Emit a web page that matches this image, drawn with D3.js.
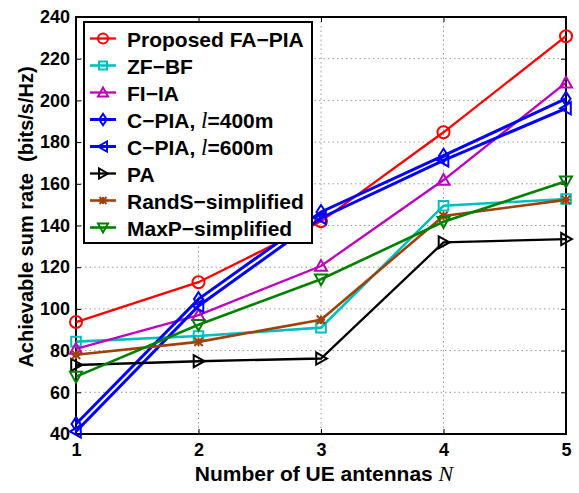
<!DOCTYPE html>
<html lang="en">
<head>
<meta charset="utf-8">
<title>Achievable sum rate vs UE antennas</title>
<script src="https://cdn.jsdelivr.net/npm/d3@7"></script>
<style>
body { margin: 0; background: #fff; }
.axis text { font-family: "Liberation Sans", Arial, sans-serif; font-size: 18px; font-weight: bold; fill: #000; }
.axis path, .axis line { stroke: #000; }
</style>
</head>
<body>
<script>
// data
var antennas = [1, 2, 3, 4, 5];
var yTicks = [40, 60, 80, 100, 120, 140, 160, 180, 200, 220, 240];
var proposed = [93.7, 112.8, 142, 184.7, 230.8];
var zfbf = [84.3, 87, 91, 149.5, 152.7];
var fiia = [80.8, 97, 120.6, 161.8, 208.5];
var cpia400 = [44.8, 104.7, 146.5, 173.5, 200.8];
var cpia600 = [41.2, 101.4, 143.6, 171.2, 196.2];
var pa = [73.1, 74.9, 76.2, 131.9, 133.5];
var rands = [78, 84.2, 94.8, 144.6, 152.3];
var maxp = [67.5, 92.4, 114.2, 141.8, 161.2];

var series = [
    { name: "Proposed FA\u2212PIA", values: proposed, color: "#ff0000", marker: "circle", width: 2.3 },
    { name: "ZF\u2212BF", values: zfbf, color: "#00bfbf", marker: "square", width: 2.6 },
    { name: "FI\u2212IA", values: fiia, color: "#bf00bf", marker: "up", width: 2.3 },
    { name: "C\u2212PIA, |=400m", values: cpia400, color: "#0000ff", marker: "diamond", width: 3 },
    { name: "C\u2212PIA, |=600m", values: cpia600, color: "#0000ff", marker: "left", width: 3 },
    { name: "PA", values: pa, color: "#000000", marker: "right", width: 2.3 },
    { name: "RandS\u2212simplified", values: rands, color: "#a0400a", marker: "star", width: 2.6 },
    { name: "MaxP\u2212simplified", values: maxp, color: "#008000", marker: "down", width: 2.6 }
];

var margin = { top: 17, right: 13, bottom: 59, left: 76 };
var outer_width = 579, outer_height = 493;
var w = outer_width - margin.left - margin.right;
var h = outer_height - margin.top - margin.bottom;

var svg = d3.select("body").append("svg")
    .attr("width", outer_width)
    .attr("height", outer_height);
var g = svg.append("g").attr("transform", "translate(" + margin.left + "," + margin.top + ")");

var xScale = d3.scaleLinear().domain([1, 5]).range([0, w]);
var yScale = d3.scaleLinear().domain([40, 240]).range([h, 0]);

// dotted grid
g.append("g").selectAll("line.gx")
    .data(antennas.slice(1, -1))
    .enter().append("line")
    .attr("x1", function(d) { return xScale(d); })
    .attr("x2", function(d) { return xScale(d); })
    .attr("y1", 0).attr("y2", h)
    .attr("stroke", "#999").attr("stroke-width", 1).attr("stroke-dasharray", "1.5,3");
g.append("g").selectAll("line.gy")
    .data(yTicks.slice(1, -1))
    .enter().append("line")
    .attr("y1", function(d) { return yScale(d); })
    .attr("y2", function(d) { return yScale(d); })
    .attr("x1", 0).attr("x2", w)
    .attr("stroke", "#999").attr("stroke-width", 1).attr("stroke-dasharray", "1.5,3");

// axes (ticks inside, MATLAB style)
g.append("g").attr("class", "axis")
    .attr("transform", "translate(0," + h + ")")
    .call(d3.axisBottom(xScale).tickValues(antennas).tickFormat(d3.format("d")).tickSizeInner(-5).tickSizeOuter(0).tickPadding(9))
    .call(function(s) { s.select(".domain").remove(); });
g.append("g").attr("class", "axis")
    .call(d3.axisLeft(yScale).tickValues(yTicks).tickSizeInner(-5).tickSizeOuter(0).tickPadding(6))
    .call(function(s) { s.select(".domain").remove(); });
g.append("g").attr("class", "axis")
    .attr("transform", "translate(" + w + ",0)")
    .call(d3.axisRight(yScale).tickValues(yTicks).tickSizeInner(-5).tickSizeOuter(0).tickFormat(""))
    .call(function(s) { s.select(".domain").remove(); });
g.append("g").attr("class", "axis")
    .call(d3.axisTop(xScale).tickValues(antennas).tickSizeInner(-5).tickSizeOuter(0).tickFormat(""))
    .call(function(s) { s.select(".domain").remove(); });

g.append("rect")
    .attr("width", w).attr("height", h)
    .attr("fill", "none").attr("stroke", "#000").attr("stroke-width", 2);

// marker shapes
function markerPath(type, r) {
    switch (type) {
        case "circle":
            return "M" + (-r) + ",0A" + r + "," + r + " 0 1,0 " + r + ",0A" + r + "," + r + " 0 1,0 " + (-r) + ",0Z";
        case "square":
            var s = r * 0.8;
            return "M" + (-s) + "," + (-s) + "H" + s + "V" + s + "H" + (-s) + "Z";
        case "diamond":
            return "M0," + (-r * 1.15) + "L" + (r * 0.75) + ",0L0," + (r * 1.15) + "L" + (-r * 0.75) + ",0Z";
        case "up":
            return "M0," + (-r) + "L" + r + "," + (r * 0.8) + "L" + (-r) + "," + (r * 0.8) + "Z";
        case "down":
            return "M0," + r + "L" + r + "," + (-r * 0.8) + "L" + (-r) + "," + (-r * 0.8) + "Z";
        case "left":
            return "M" + (-r) + ",0L" + (r * 0.8) + "," + (-r) + "L" + (r * 0.8) + "," + r + "Z";
        case "right":
            return "M" + r + ",0L" + (-r * 0.8) + "," + (-r) + "L" + (-r * 0.8) + "," + r + "Z";
        case "star":
            var a = r * 0.7;
            return "M" + (-a) + "," + (-a) + "L" + a + "," + a + "M" + (-a) + "," + a + "L" + a + "," + (-a) +
                "M0," + (-a) + "L0," + a + "M" + (-a) + ",0L" + a + ",0";
    }
}

var line = d3.line()
    .x(function(d, i) { return xScale(antennas[i]); })
    .y(function(d) { return yScale(d); });

series.forEach(function(s) {
    var sg = g.append("g");
    sg.append("path")
        .attr("d", line(s.values))
        .attr("fill", "none")
        .attr("stroke", s.color)
        .attr("stroke-width", s.width);
    sg.selectAll("path.m")
        .data(s.values)
        .enter().append("path")
        .attr("transform", function(d, i) { return "translate(" + xScale(antennas[i]) + "," + yScale(d) + ")"; })
        .attr("d", markerPath(s.marker, 6))
        .attr("fill", "none")
        .attr("stroke", s.color)
        .attr("stroke-width", 2);
});

// legend
var legend = svg.append("g").attr("transform", "translate(84,22)");
legend.append("rect")
    .attr("width", 228).attr("height", 221)
    .attr("fill", "#fff").attr("stroke", "#000").attr("stroke-width", 2);
series.forEach(function(s, i) {
    var y = 16.5 + i * 27;
    legend.append("line")
        .attr("x1", 6).attr("x2", 32).attr("y1", y).attr("y2", y)
        .attr("stroke", s.color).attr("stroke-width", s.width);
    legend.append("path")
        .attr("transform", "translate(19," + y + ")")
        .attr("d", markerPath(s.marker, 5))
        .attr("fill", "none").attr("stroke", s.color).attr("stroke-width", 2);
    var t = legend.append("text")
        .attr("x", 43).attr("y", y + 8)
        .attr("font-family", "'Liberation Sans', Arial, sans-serif")
        .attr("font-size", "21px").attr("font-weight", "bold");
    var parts = s.name.split("|");
    t.append("tspan").text(parts[0]);
    if (parts.length > 1) {
        t.append("tspan").text("l")
            .attr("font-family", "'Liberation Serif', 'Times New Roman', serif")
            .attr("font-style", "italic").attr("font-weight", "normal").attr("font-size", "23px");
        t.append("tspan").text(parts[1]);
    }
});

// axis titles
var xl = svg.append("text")
    .attr("x", 324).attr("y", 481)
    .attr("text-anchor", "middle")
    .attr("font-family", "'Liberation Sans', Arial, sans-serif")
    .attr("font-size", "21px").attr("font-weight", "bold");
xl.append("tspan").text("Number of UE antennas ");
xl.append("tspan").text("N")
    .attr("font-family", "'Liberation Serif', 'Times New Roman', serif")
    .attr("font-style", "italic").attr("font-weight", "normal").attr("font-size", "22px");

svg.append("text")
    .attr("transform", "translate(33,217) rotate(-90)")
    .attr("text-anchor", "middle")
    .attr("font-family", "'Liberation Sans', Arial, sans-serif")
    .attr("font-size", "20px").attr("font-weight", "bold")
    .attr("xml:space", "preserve")
    .text("Achievable sum rate  (bits/s/Hz)");
</script>
</body>
</html>
